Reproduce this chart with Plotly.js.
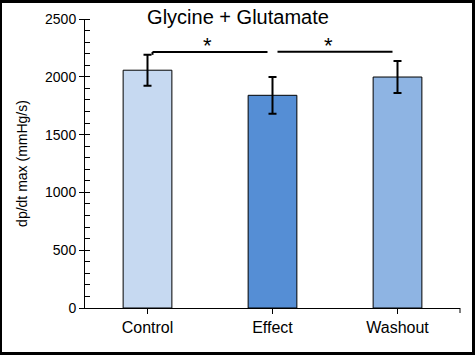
<!DOCTYPE html>
<html>
<head>
<meta charset="utf-8">
<script src="https://cdn.plot.ly/plotly-3.0.1.min.js"></script>
<style>
html,body{margin:0;padding:0;background:#fff;}
#wrap{position:relative;width:475px;height:355px;}
#chart{position:absolute;left:0;top:0;width:475px;height:355px;}
#frame{position:absolute;left:0;top:0;width:475px;height:355px;box-sizing:border-box;border:3px solid #000;border-left-width:2px;pointer-events:none;}
</style>
</head>
<body>
<div id="wrap"><div id="chart"></div><div id="frame"></div></div>
<script>
// data
const categories = ['Control', 'Effect', 'Washout'];
const means = [2057, 1840, 1998];
const errors = [134, 159, 138];
const yTickValues = [0, 500, 1000, 1500, 2000, 2500];
// significance comparisons (category index pairs) and their label
const sigPairs = [[0, 1], [1, 2]];
const sigLevel = [2215, 2217];
const sigLabelX = [0.48, 1.45];
const sigLabel = '*';

const barColors = ['#c6d9f1', '#558ed5', '#8eb4e3'];
const font = 'Arial, "Liberation Sans", sans-serif';

const trace = {
  type: 'bar',
  x: categories,
  y: means,
  width: 0.39,
  marker: {color: barColors, line: {color: '#000', width: 1}},
  error_y: {type: 'data', array: errors, visible: true, color: '#000', thickness: 2, width: 4},
  hoverinfo: 'none'
};

const shapes = [];
const annotations = [];
sigPairs.forEach((p, i) => {
  const x0 = p[0] + 0.04, x1 = p[1] - 0.04;
  shapes.push({type: 'line', xref: 'x', yref: 'y', x0: x0, x1: x1, y0: sigLevel[i], y1: sigLevel[i],
    line: {color: '#000', width: 2}});
  annotations.push({xref: 'x', yref: 'y', x: sigLabelX[i], y: sigLevel[i] - 70, text: sigLabel,
    showarrow: false, yanchor: 'bottom', font: {family: font, size: 22, color: '#000'}});
});
// small hook at the start of first bracket
shapes.push({type: 'line', xref: 'x', yref: 'y', x0: sigPairs[0][0] + 0.04, x1: sigPairs[0][0] + 0.04,
  y0: sigLevel[0], y1: sigLevel[0] - 25, line: {color: '#000', width: 2}});
// tick at right end of x axis
shapes.push({type: 'line', xref: 'paper', yref: 'paper', x0: 1, x1: 1, y0: 0, y1: -5 / 289,
  line: {color: '#000', width: 1}});

const layout = {
  width: 475, height: 355,
  margin: {l: 85, r: 15, t: 19, b: 47, pad: 0},
  paper_bgcolor: '#fff', plot_bgcolor: '#fff',
  showlegend: false,
  font: {family: font, color: '#000'},
  title: {text: 'Glycine + Glutamate', x: 0.501, xref: 'container', xanchor: 'center',
    y: 1 - 17 / 355, yref: 'container', yanchor: 'middle',
    font: {family: font, size: 20, color: '#000'}},
  xaxis: {
    type: 'category', range: [-0.5, 2.5],
    showline: true, linecolor: '#000', linewidth: 1,
    ticks: 'outside', ticklen: 5, tickcolor: '#000', tickwidth: 1,
    showgrid: false, zeroline: false,
    tickfont: {family: font, size: 16, color: '#000'}
  },
  yaxis: {
    range: [0, 2500], tickvals: yTickValues,
    showline: true, linecolor: '#000', linewidth: 1,
    ticks: 'outside', ticklen: 5, tickcolor: '#000', tickwidth: 1,
    minor: {dtick: 100, ticks: 'inside', ticklen: 5, tickcolor: '#000', tickwidth: 1, showgrid: false},
    showgrid: false, zeroline: false,
    tickfont: {family: font, size: 14, color: '#000'},
    title: {text: 'dp/dt max (mmHg/s)', standoff: 14, font: {family: font, size: 14, color: '#000'}}
  },
  shapes: shapes,
  annotations: annotations
};

Plotly.newPlot('chart', [trace], layout, {staticPlot: true, displayModeBar: false});
</script>
</body>
</html>
